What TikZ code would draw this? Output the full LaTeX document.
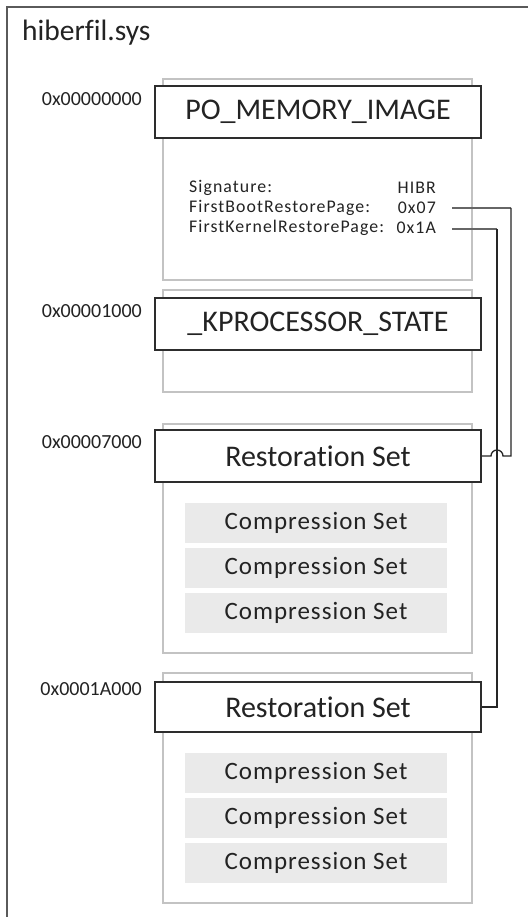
\documentclass[tikz,border=0pt]{standalone}
\usepackage{fontspec}
\setmainfont{Carlito}[Ligatures=NoCommon]
\newfontfamily\widefont{Carlito}[Ligatures=NoCommon, LetterSpace=4]
\newfontfamily\fldfont{Carlito}[Ligatures=NoCommon, LetterSpace=6]
\definecolor{txt}{RGB}{35,35,35}
\definecolor{framec}{RGB}{90,90,90}
\definecolor{grayb}{RGB}{195,195,195}
\definecolor{compf}{RGB}{234,234,234}
\definecolor{hdrc}{RGB}{45,45,45}
\tikzset{
  grp/.style={draw=grayb, line width=1.6pt, fill=white},
  hdr/.style={draw=hdrc, line width=1.6pt, fill=white, text=txt, font=\fontsize{30}{32}\selectfont, inner sep=0pt},
  comp/.style={fill=compf, draw=none, text=txt, font=\widefont\fontsize{25}{27}\selectfont, inner sep=0pt},
  addr/.style={text=txt, font=\fontsize{20}{22}\selectfont, anchor=east, inner sep=0pt},
  fld/.style={text=txt, font=\fldfont\fontsize{17.8}{19}\selectfont, inner sep=0pt},
  link/.style={draw=black!85, line width=1.3pt},
  linkg/.style={draw=black!60, line width=2pt}
}
\begin{document}
\begin{tikzpicture}[x=1pt, y=-1pt]
\useasboundingbox (0,0) rectangle (528,917);
\fill[white] (0,0) rectangle (528,917);
% outer frame
\draw[framec, line width=1.8pt] (7,917) -- (7,7) -- (528,7);
\node[anchor=west, text=txt, font=\fontsize{29.5}{31}\selectfont, inner sep=0pt] (title) at (22,33) {hiberfil.sys};

% group boxes
\draw[grp] (163,79) rectangle (472,280);
\draw[grp] (163,290) rectangle (472,392);
\draw[grp] (163,424) rectangle (472,653);
\draw[grp] (163,673) rectangle (472,903);

% header boxes
\node[hdr, minimum width=326pt, minimum height=52pt] (po) at (318,112) {PO\_MEMORY\_IMAGE};
\node[hdr, minimum width=326pt, minimum height=52pt] (kp) at (318,324) {\_KPROCESSOR\_STATE};
\node[hdr, minimum width=326pt, minimum height=52pt] (rs1) at (318,456) {Restoration Set};
\node[hdr, minimum width=326pt, minimum height=50pt] (rs2) at (318,707) {Restoration Set};

% addresses
\node[addr] (a0) at (142,99) {0x00000000};
\node[addr] (a1) at (142,311) {0x00001000};
\node[addr] (a2) at (142,442) {0x00007000};
\node[addr] (a3) at (142,689) {0x0001A000};

% fields
\node[fld, anchor=west] (f1) at (189,188) {Signature:};
\node[fld, anchor=east] (v1) at (436,188) {HIBR};
\node[fld, anchor=west] (f2) at (189,208) {FirstBootRestorePage:};
\node[fld, anchor=east] (v2) at (436,208) {0x07};
\node[fld, anchor=west] (f3) at (189,228) {FirstKernelRestorePage:};
\node[fld, anchor=east] (v3) at (436,228) {0x1A};

% compression sets
\node[comp, minimum width=262pt, minimum height=40pt] (c1) at (316,523) {Compression Set};
\node[comp, minimum width=262pt, minimum height=40pt] (c2) at (316,567.5) {Compression Set};
\node[comp, minimum width=262pt, minimum height=40pt] (c3) at (316,613) {Compression Set};
\node[comp, minimum width=262pt, minimum height=40pt] (c4) at (316,773) {Compression Set};
\node[comp, minimum width=262pt, minimum height=40pt] (c5) at (316,818) {Compression Set};
\node[comp, minimum width=262pt, minimum height=40pt] (c6) at (316,863) {Compression Set};

% connectors
\coordinate (s07) at (452,208);
\coordinate (s1a) at (452,229);
\coordinate (k07) at (511,208);
\coordinate (k1a) at (497,229);
\draw[linkg] (s07) -- (k07);
\draw[linkg] (s1a) -- (k1a);
\draw[link] (k1a) -- (k1a |- rs2.east) -- (rs2.east);
\draw[link] (k07) -- (k07 |- rs1.east) -- (503,456) arc[start angle=0, end angle=180, radius=6pt] -- (rs1.east);
\end{tikzpicture}
\end{document}
